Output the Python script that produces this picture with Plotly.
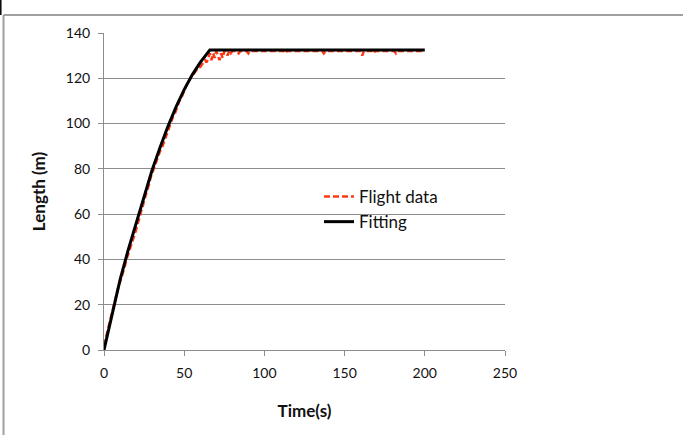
import plotly.graph_objects as go

# Flight data (time s, length m)
flight_t = [0, 1, 2, 3, 4, 5, 6, 7, 8, 9, 10, 11, 12, 13, 14, 15, 16, 17, 18, 19,
            20, 21, 22, 23, 24, 25, 26, 27, 28, 29, 30, 31, 32, 33, 34, 35, 36, 37, 38, 39,
            40, 41, 42, 43, 44, 45, 46, 47, 48, 49, 50, 51, 52, 53, 54, 55, 56, 57, 58, 59,
            60, 61, 62, 63, 64, 65, 66, 67, 68, 69, 70, 71, 72, 73, 74, 75, 76, 77, 78, 79,
            80, 83, 84, 85, 89, 90, 91, 100, 112, 113, 114, 136, 137, 138, 160, 161, 162,
            167, 168, 169, 181, 182, 183, 200]
flight_y = [2, 5, 8, 11, 13, 16, 20, 22, 25, 28, 30, 32, 35, 37, 40, 42, 44, 46, 48, 51,
            53, 56, 58, 61, 63, 66, 68, 71, 73, 76, 78, 80, 82, 84, 86, 88, 89, 91, 93, 95,
            97, 99, 101, 103, 104, 106, 108, 110, 111, 113, 114, 116, 118, 119, 120, 122, 122, 123, 124, 125,
            125, 126, 127, 128, 127, 129, 131, 128, 131, 129, 132, 130, 128, 131, 129, 132, 132, 130, 132, 131,
            132, 132, 131, 132, 132, 131, 132, 132, 132, 131, 132, 132, 131, 132, 132, 130, 132,
            132, 131, 132, 132, 131, 132, 132]

# Fitting curve
fit_t = [0, 5, 10, 15, 20, 25, 30, 35, 40, 45, 50, 55, 60, 66, 200]
fit_y = [0, 16, 31, 44, 56, 68, 79.5, 89.5, 99, 107.5, 115, 121.5, 127, 132.5, 132.5]

x_ticks = [0, 50, 100, 150, 200, 250]
y_ticks = [0, 20, 40, 60, 80, 100, 120, 140]

FONT = "Lato, 'Open Sans', sans-serif"
GRID = "#8c8c8c"

fig = go.Figure()
fig.add_trace(go.Scatter(x=flight_t, y=flight_y, mode="lines", name="Flight data",
                         line=dict(color="#ff3814", width=2.5, dash="6px,3px")))
fig.add_trace(go.Scatter(x=fit_t, y=fit_y, mode="lines", name="Fitting",
                         line=dict(color="black", width=3)))

# plot area pixels: x 104..505, y 33..350
L, R, T, B = 104, 505, 33, 350
W, H = 683, 435
def px(x):
    return (x - L) / (R - L)
def py(y):
    return (B - y) / (B - T)

shapes = [
    dict(type="line", xref="paper", yref="paper", x0=px(3.5), x1=px(700), y0=py(15), y1=py(15),
         line=dict(color="#a0a0a0", width=2)),
    dict(type="line", xref="paper", yref="paper", x0=px(3.5), x1=px(3.5), y0=py(15), y1=py(440),
         line=dict(color="#a0a0a0", width=2)),
    dict(type="line", xref="paper", yref="paper", x0=px(0.8), x1=px(0.8), y0=py(-5), y1=py(15),
         line=dict(color="black", width=1.5)),
]

fig.update_layout(
    width=W, height=H,
    margin=dict(l=L, r=W - R, t=T, b=H - B),
    paper_bgcolor="white", plot_bgcolor="white",
    font=dict(family=FONT, size=14, color="#111"),
    showlegend=True,
    legend=dict(x=px(319), y=py(179), xanchor="left", yanchor="top",
                bgcolor="rgba(0,0,0,0)", font=dict(size=17, family=FONT)),
    shapes=shapes,
    xaxis=dict(range=[0, 250], tickvals=x_ticks, showgrid=False, zeroline=False,
               showline=True, linecolor=GRID, linewidth=1,
               ticks="outside", ticklen=5, tickcolor=GRID, ticklabelstandoff=5,
               title=dict(text="<b>Time(s)</b>", font=dict(size=17, family=FONT), standoff=25)),
    yaxis=dict(range=[0, 140], tickvals=y_ticks, showgrid=True, gridcolor=GRID, gridwidth=1,
               zeroline=False, showline=True, linecolor=GRID, linewidth=1,
               ticks="outside", ticklen=5, tickcolor=GRID, ticklabelstandoff=5,
               title=dict(text="<b>Length (m)</b>", font=dict(size=17, family=FONT), standoff=15)),
)

fig.write_html("out.html", config={"displayModeBar": False},
               post_script="document.body.style.margin='0';")
